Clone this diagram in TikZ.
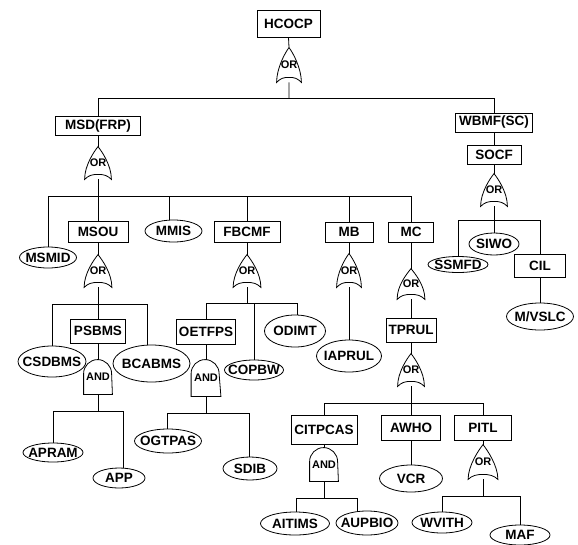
\documentclass[tikz,border=0pt]{standalone}
\usepackage{fontspec}
\setmainfont{Liberation Sans}
\usepackage{tikz}
\usetikzlibrary{shapes.geometric}

\tikzset{
  every node/.style={font=\bfseries\fontsize{13.5}{14}\selectfont},
  box/.style={draw, rectangle, inner sep=0pt, minimum height=21pt},
  leaf/.style={draw, ellipse, inner xsep=-6pt, inner ysep=0pt, minimum height=21pt},
  gatelbl/.style={inner sep=0pt, font=\bfseries\fontsize{11}{11}\selectfont},
  orgate/.style={gatelbl, minimum width=26pt, minimum height=32pt,
    append after command={\pgfextra{\draw (\tikzlastnode.north)
      .. controls +(4pt,-5pt) and +(0pt,14pt) .. (\tikzlastnode.south east)
      .. controls +(-4pt,4pt) and +(6pt,0pt) .. ([yshift=5pt]\tikzlastnode.south)
      .. controls +(-6pt,0pt) and +(4pt,4pt) .. (\tikzlastnode.south west)
      .. controls +(0pt,14pt) and +(-4pt,-5pt) .. (\tikzlastnode.north) -- cycle;}}},
  andgate/.style={gatelbl, minimum width=28pt, minimum height=34pt,
    append after command={\pgfextra{\draw (\tikzlastnode.south west)
      -- ([yshift=-14pt]\tikzlastnode.north west) arc[start angle=180, end angle=0, radius=14pt]
      -- (\tikzlastnode.south east) -- cycle;}}},
  tree/.style={to path={-| (\tikztotarget)}},
}

\begin{document}
\begin{tikzpicture}[x=1pt, y=-1pt, line width=0.8pt]
  \useasboundingbox (0,0) rectangle (578,544);

  \node[box, minimum width=63pt, minimum height=27pt] (hcocp) at (288.5,23.5) {HCOCP};
  \node[orgate, minimum width=24pt, minimum height=34pt] (g0) at (289,65) {OR};
  \coordinate (b0) at (289,98);

  \node[box, minimum width=85pt, minimum height=19pt] (msd) at (98,126) {MSD(FRP)};
  \node[orgate] (g1) at (98,163) {OR};
  \coordinate (b1) at (98,196);

  \node[box, minimum width=77pt, minimum height=19pt] (wbmf) at (494,122.5) {WBMF(SC)};
  \node[box, minimum width=54pt, minimum height=19pt] (socf) at (494,154.5) {SOCF};
  \node[orgate] (g2) at (494,190) {OR};
  \coordinate (b2) at (494,220);
  \node[leaf, minimum width=60pt, minimum height=16pt] (ssmfd) at (458,264.5) {SSMFD};
  \node[leaf, minimum width=50pt, minimum height=22pt] (siwo) at (494,244) {SIWO};
  \node[box, minimum width=51pt, minimum height=23pt] (cil) at (540,265.5) {CIL};
  \node[leaf, minimum width=67pt, minimum height=27pt] (mvslc) at (540,316.5) {M/VSLC};

  \node[leaf, minimum width=57pt] (msmid) at (48,257.5) {MSMID};
  \node[box, minimum width=60pt] (msou) at (98,231.5) {MSOU};
  \node[leaf, minimum width=57pt, minimum height=22pt] (mmis) at (173.5,231) {MMIS};
  \node[box, minimum width=66pt] (fbcmf) at (247,231.5) {FBCMF};
  \node[box, minimum width=48pt, minimum height=20pt] (mb) at (349,232) {MB};
  \node[box, minimum width=45pt, minimum height=20pt] (mc) at (411,232) {MC};

  \node[orgate, minimum width=27pt] (g3) at (98,271) {OR};
  \coordinate (b3) at (98,304);
  \node[leaf, minimum width=68pt, minimum height=31pt] (csdbms) at (52,361.5) {CSDBMS};
  \node[box, minimum width=55pt, minimum height=24pt] (psbms) at (98,331) {PSBMS};
  \node[leaf, minimum width=77pt, minimum height=37pt] (bcabms) at (151.5,363.5) {BCABMS};
  \node[andgate] (g8) at (98,377) {AND};
  \coordinate (b5) at (98,411);
  \node[leaf, minimum width=60pt, minimum height=19pt] (apram) at (53,452.5) {APRAM};
  \node[leaf, minimum width=52pt, minimum height=20pt] (app) at (119,478) {APP};

  \node[orgate, minimum width=27pt] (g4) at (247,271) {OR};
  \coordinate (b4) at (247,303.5);
  \node[box, minimum width=59pt, minimum height=25pt] (oetfps) at (206,331.5) {OETFPS};
  \node[leaf, minimum width=59pt, minimum height=20pt] (copbw) at (254,370) {COPBW};
  \node[leaf, minimum width=61pt, minimum height=32pt] (odimt) at (295,331) {ODIMT};
  \node[andgate, minimum width=29pt, minimum height=36pt] (g9) at (206,378) {AND};
  \coordinate (b6) at (206,413);
  \node[leaf, minimum width=67pt, minimum height=24pt] (ogtpas) at (168,441) {OGTPAS};
  \node[leaf, minimum width=54pt, minimum height=23pt] (sdib) at (250,468.5) {SDIB};

  \node[orgate, minimum width=24pt, minimum height=33pt] (g5) at (349,270.5) {OR};
  \node[leaf, minimum width=65pt, minimum height=32pt] (iaprul) at (349,356) {IAPRUL};

  \node[orgate, minimum width=27pt, minimum height=30pt] (g6) at (411,284) {OR};
  \node[box, minimum width=50pt, minimum height=24pt] (tprul) at (411,330) {TPRUL};
  \node[orgate] (g7) at (411,370) {OR};
  \coordinate (b7) at (411,403);
  \node[box, minimum width=66pt, minimum height=29pt] (citpcas) at (324,429.5) {CITPCAS};
  \node[box, minimum width=59pt, minimum height=25pt] (awho) at (411,427.5) {AWHO};
  \node[box, minimum width=57pt, minimum height=25pt] (pitl) at (483,427.5) {PITL};
  \node[andgate, minimum height=33pt] (g10) at (324,464.5) {AND};
  \coordinate (b8) at (324,498);
  \node[leaf, minimum width=69pt, minimum height=23pt] (aitims) at (295,523.5) {AITIMS};
  \node[leaf, minimum width=62pt, minimum height=24pt] (aupbio) at (367,523) {AUPBIO};
  \node[leaf, minimum width=63pt, minimum height=27pt] (vcr) at (411,478.5) {VCR};
  \node[orgate, minimum width=29pt, minimum height=34pt] (g11) at (483,462) {OR};
  \coordinate (b9) at (483,496);
  \node[leaf, minimum width=60pt] (wvith) at (442,522.5) {WVITH};
  \node[leaf, minimum width=60pt, minimum height=20pt] (maf) at (520,535) {MAF};

  \path[draw] (hcocp.south) -- (g0.north) (g0.south) -- (b0);
  \path (b0) edge[tree] (msd.north) edge[tree] (wbmf.north);
  \path[draw] (msd.south) -- (g1.north) (g1.south) -- (b1);
  \path (b1) edge[tree] (msmid.north) edge[tree] (msou.north)
    edge[tree] ([xshift=-4.5pt]mmis.north) edge[tree] (fbcmf.north)
    edge[tree] (mb.north) edge[tree] (mc.north);
  \path[draw] (wbmf.south) -- (socf.north) (socf.south) -- (g2.north) (g2.south) -- (b2);
  \path (b2) edge[tree] (ssmfd.north) edge[tree] (siwo.north) edge[tree] (cil.north);
  \path[draw] (cil.south) -- (mvslc.north);

  \path[draw] (msou.south) -- (g3.north) (g3.south) -- (b3);
  \path (b3) edge[tree] (csdbms.north) edge[tree] (psbms.north)
    edge[tree] ([xshift=-4.5pt]bcabms.north);
  \path[draw] (psbms.south) -- (g8.north) (g8.south) -- (b5);
  \path (b5) edge[tree] (apram.north) edge[tree] ([xshift=4pt]app.north);

  \path[draw] (fbcmf.south) -- (g4.north) (g4.south) -- (b4);
  \path (b4) edge[tree] (oetfps.north) edge[tree] (copbw.north) edge[tree] ([xshift=2pt]odimt.north);
  \path[draw] (oetfps.south) -- (g9.north) (g9.south) -- (b6);
  \path (b6) edge[tree] ([xshift=-1pt]ogtpas.north) edge[tree] ([xshift=-1pt]sdib.north);

  \path[draw] (mb.south) -- (g5.north) (g5.south) -- (iaprul.north);

  \path[draw] (mc.south) -- (g6.north) (g6.south) -- (tprul.north)
    (tprul.south) -- (g7.north) (g7.south) -- (b7);
  \path (b7) edge[tree] (citpcas.north) edge[tree] (awho.north) edge[tree] (pitl.north);
  \path[draw] (citpcas.south) -- (g10.north) (g10.south) -- (b8);
  \path (b8) edge[tree] ([xshift=1pt]aitims.north) edge[tree] ([xshift=-10pt]aupbio.north);
  \path[draw] (awho.south) -- (vcr.north);
  \path[draw] (pitl.south) -- (g11.north) (g11.south) -- (b9);
  \path (b9) edge[tree] (wvith.north) edge[tree] (maf.north);
\end{tikzpicture}
\end{document}
